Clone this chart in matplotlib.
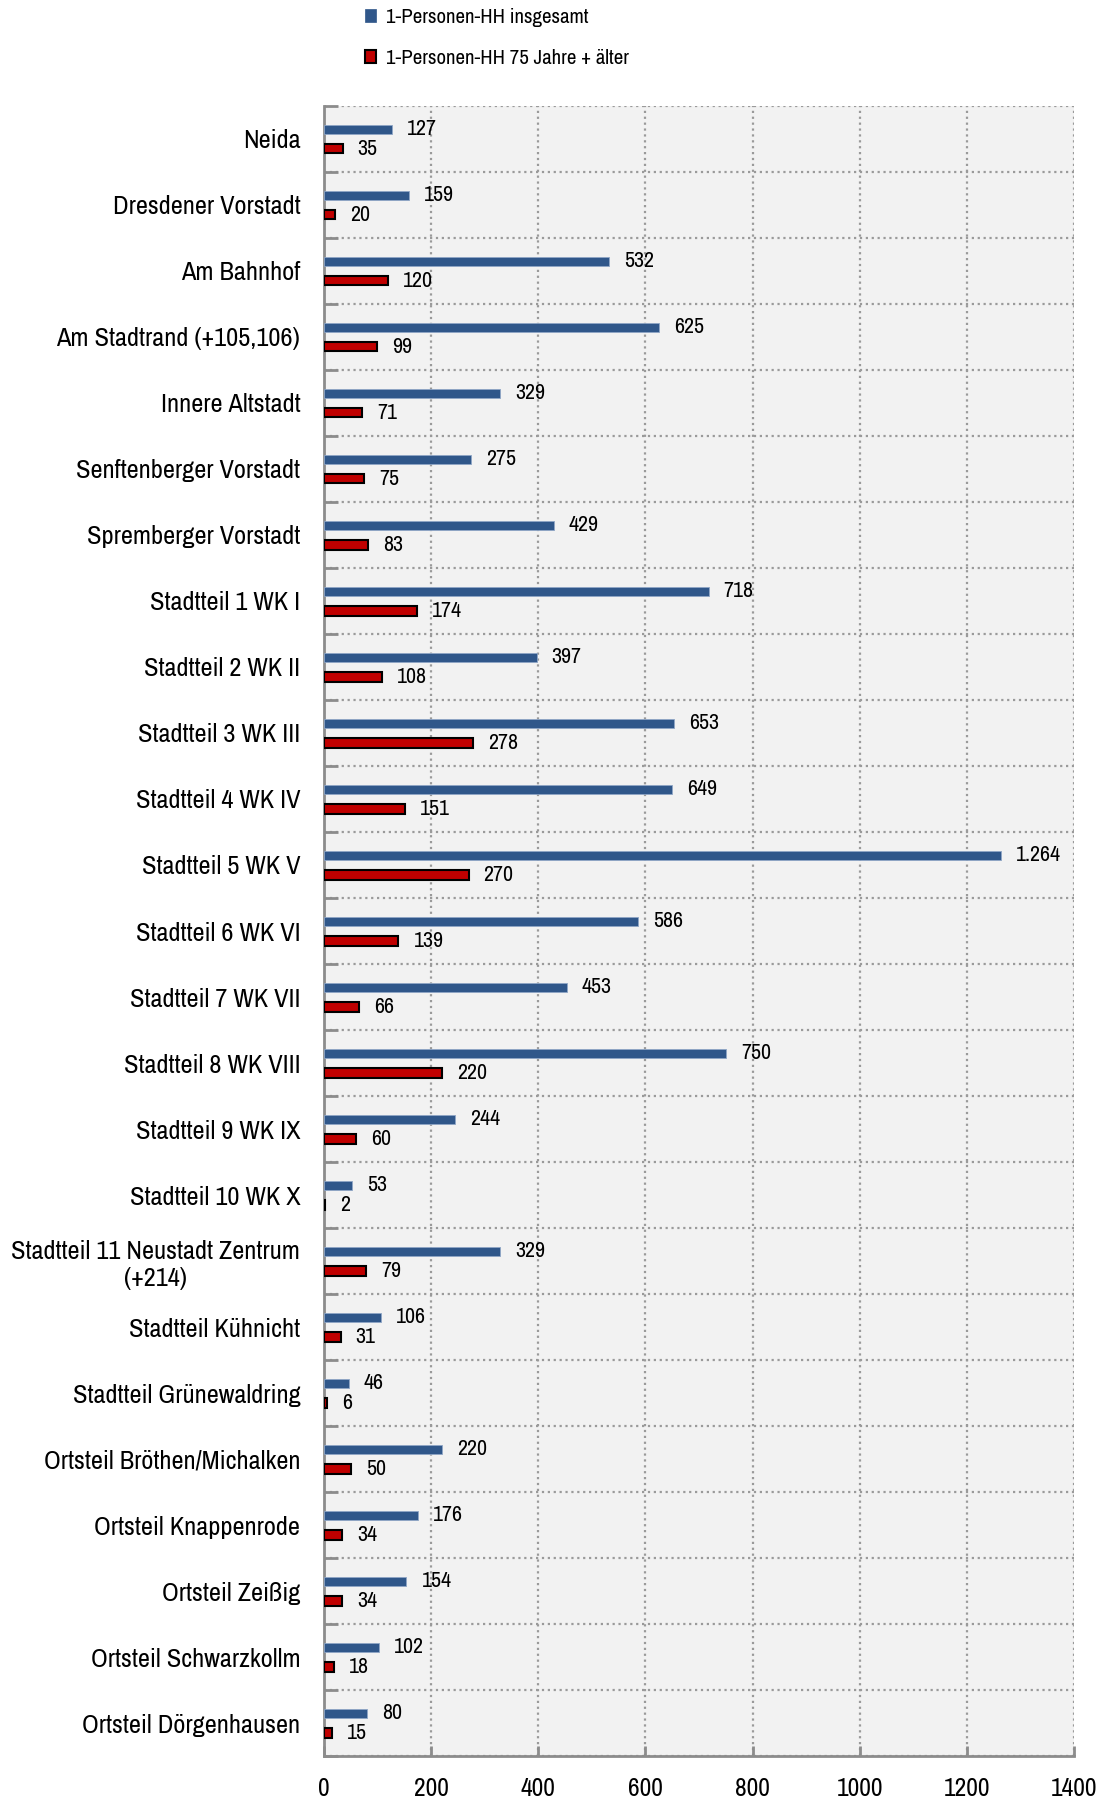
import numpy as np
import matplotlib
matplotlib.use('Agg')
import matplotlib.pyplot as plt
from matplotlib import font_manager
from matplotlib.patches import Patch
from matplotlib.ticker import MultipleLocator, FixedLocator

# Data
districts = [
    'Neida', 'Dresdener Vorstadt', 'Am Bahnhof', 'Am Stadtrand (+105,106)',
    'Innere Altstadt', 'Senftenberger Vorstadt', 'Spremberger Vorstadt',
    'Stadtteil 1 WK I', 'Stadtteil 2 WK II', 'Stadtteil 3 WK III',
    'Stadtteil 4 WK IV', 'Stadtteil 5 WK V', 'Stadtteil 6 WK VI',
    'Stadtteil 7 WK VII', 'Stadtteil 8 WK VIII', 'Stadtteil 9 WK IX',
    'Stadtteil 10 WK X', 'Stadtteil 11 Neustadt Zentrum\n(+214)',
    'Stadtteil Kühnicht', 'Stadtteil Grünewaldring', 'Ortsteil Bröthen/Michalken',
    'Ortsteil Knappenrode', 'Ortsteil Zeißig', 'Ortsteil Schwarzkollm',
    'Ortsteil Dörgenhausen',
]
hh_total = [127, 159, 532, 625, 329, 275, 429, 718, 397, 653, 649, 1264, 586,
            453, 750, 244, 53, 329, 106, 46, 220, 176, 154, 102, 80]
hh_75plus = [35, 20, 120, 99, 71, 75, 83, 174, 108, 278, 151, 270, 139,
             66, 220, 60, 2, 79, 31, 6, 50, 34, 34, 18, 15]
legend_labels = ['1-Personen-HH insgesamt', '1-Personen-HH 75 Jahre + älter']

blue = '#30578A'
red = '#C00000'
grid_col = '#9A9A9A'

# look for a narrow font (the original uses Arial Narrow)
narrow = None
for f in font_manager.fontManager.ttflist:
    if 'Narrow' in f.name or 'Condensed' in f.name:
        narrow = (f.name, 'normal')
        break
if narrow is None:
    for f in font_manager.fontManager.ttflist:
        if f.stretch in ('condensed', 'semi-condensed', 'extra-condensed') and f.weight in (400, 'normal', 'regular'):
            narrow = (f.name, f.stretch)
            break

if narrow is not None:
    plt.rcParams['font.family'] = [narrow[0], 'DejaVu Sans']
    plt.rcParams['font.stretch'] = narrow[1]
    scale = 1.0
else:
    plt.rcParams['font.family'] = ['Liberation Sans', 'DejaVu Sans']
    scale = 0.82


def fmt(v):
    return f'{v:,}'.replace(',', '.')


fig = plt.figure(figsize=(11.05, 18.02), dpi=100)
ax = fig.add_axes([0.2932, 0.0255, 0.6787, 0.9157])
ax.set_facecolor('#F2F2F2')

y = np.arange(len(districts))
ax.barh(y - 0.145, hh_total, height=0.135, color=blue,
        edgecolor='#8FA6C6', linewidth=0.6, zorder=3)
ax.barh(y + 0.15, hh_75plus, height=0.14, color=red,
        edgecolor='black', linewidth=1.5, zorder=3)

for i in range(len(districts)):
    ax.annotate(fmt(hh_total[i]), (hh_total[i], y[i] - 0.145),
                xytext=(15, 0), textcoords='offset pixels',
                va='center', ha='left', fontsize=15.8 * scale)
    ax.annotate(fmt(hh_75plus[i]), (hh_75plus[i], y[i] + 0.15),
                xytext=(15, 0), textcoords='offset pixels',
                va='center', ha='left', fontsize=15.8 * scale)

ax.set_xlim(0, 1400)
ax.set_ylim(len(districts) - 0.5, -0.5)
ax.xaxis.set_major_locator(MultipleLocator(200))
ax.set_yticks(y)
ax.set_yticklabels(districts, fontsize=19 * scale, multialignment='center')
ax.yaxis.set_minor_locator(FixedLocator(np.arange(-0.5, len(districts), 1)))

ax.tick_params(axis='y', which='major', length=0, pad=17)
ax.tick_params(axis='y', which='minor', length=10, direction='in',
               color='#8C8C8C', width=2)
ax.tick_params(axis='x', which='major', length=7, direction='in',
               color='#8C8C8C', width=2, labelsize=18.4 * scale, pad=15)

ax.grid(axis='x', which='major', linestyle=':', color=grid_col, linewidth=1.6, zorder=1)
ax.grid(axis='y', which='minor', linestyle=':', color=grid_col, linewidth=1.6, zorder=1)
ax.set_axisbelow(True)

for s in ['top', 'right']:
    ax.spines[s].set_visible(False)
for s in ['left', 'bottom']:
    ax.spines[s].set_color('#8C8C8C')
    ax.spines[s].set_linewidth(2)

handles = [Patch(facecolor=blue, edgecolor=blue, linewidth=0.5),
           Patch(facecolor=red, edgecolor='black', linewidth=1.5)]
fig.legend(handles, legend_labels, loc='upper left',
           bbox_to_anchor=(0.313, 1.006), frameon=False, fontsize=15 * scale,
           handlelength=0.55, handleheight=0.55, handletextpad=0.5,
           labelspacing=1.05)

fig.savefig('out.png', dpi=100)
plt.close(fig)
